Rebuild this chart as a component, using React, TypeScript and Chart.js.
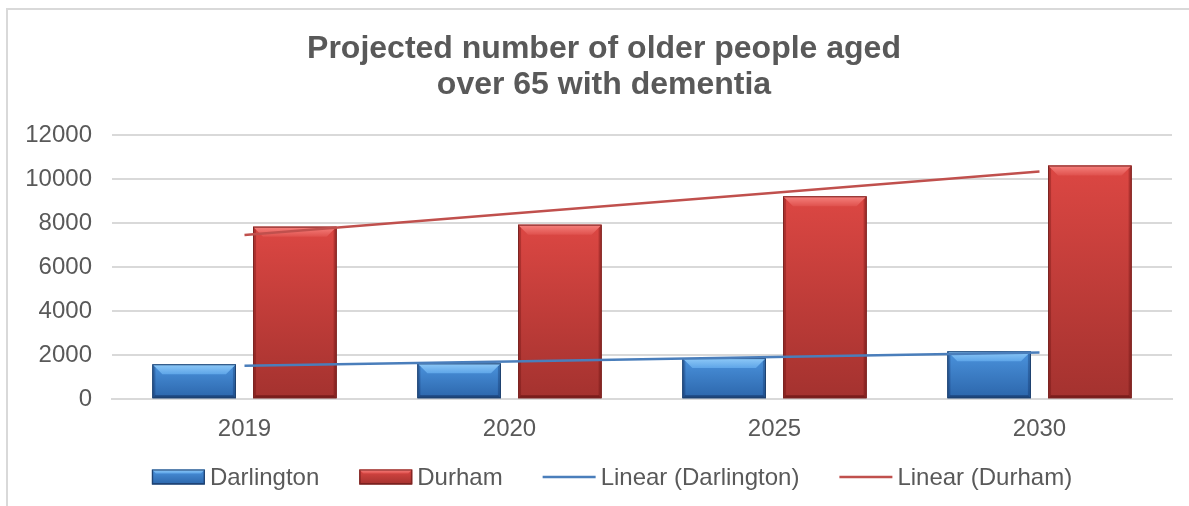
import React, { useEffect, useRef } from 'react';
import { Chart, registerables } from 'chart.js';

Chart.register(...registerables);

const categories = ['2019', '2020', '2025', '2030'];
const darlington = [1590, 1630, 1870, 2180];
const durham = [7850, 7940, 9230, 10630];
const yMin = 0;
const yMax = 12000;
const yStep = 2000;
const titleLines = ['Projected number of older people aged', 'over 65 with dementia'];
const seriesNames = ['Darlington', 'Durham', 'Linear (Darlington)', 'Linear (Durham)'];

const FONT = "'Liberation Sans', Arial, sans-serif";

// Least-squares linear trendline (as Excel's "Linear" trendline)
function linearTrend(values: number[]): number[] {
  const n = values.length;
  const xs = values.map((_, i) => i + 1);
  const mx = xs.reduce((a, b) => a + b, 0) / n;
  const my = values.reduce((a, b) => a + b, 0) / n;
  let num = 0;
  let den = 0;
  for (let i = 0; i < n; i++) {
    num += (xs[i] - mx) * (values[i] - my);
    den += (xs[i] - mx) * (xs[i] - mx);
  }
  const slope = num / den;
  return xs.map((x) => my + slope * (x - mx));
}

const palettes: Record<number, any> = {
  0: {
    top: '#4b93dd',
    bottom: '#2c66ab',
    hiTop: '#8fcaf8',
    hiBottom: '#5ea5e8',
    side: 'rgba(10,35,85,0.30)',
    bottomSide: 'rgba(10,30,70,0.45)',
    edge: '#1f416e',
  },
  1: {
    top: '#dc4743',
    bottom: '#a4322f',
    hiTop: '#f7837f',
    hiBottom: '#df514d',
    side: 'rgba(90,10,10,0.30)',
    bottomSide: 'rgba(70,5,5,0.45)',
    edge: '#7a2422',
  },
};
const trendColors = ['#4a7ebb', '#c0504d'];

function drawBevelRect(ctx: any, pal: any, x0: number, top: number, width: number, h: number, bevel: number, side: number) {
  const x1 = x0 + width;
  const bot = top + h;
  const b = Math.min(bevel, h / 2, width / 2);
  const s = Math.min(side, h / 4);
  ctx.save();
  const g = ctx.createLinearGradient(0, top, 0, bot);
  g.addColorStop(0, pal.top);
  g.addColorStop(1, pal.bottom);
  ctx.fillStyle = g;
  ctx.fillRect(x0, top, width, h);
  ctx.fillStyle = pal.side;
  ctx.beginPath();
  ctx.moveTo(x0, top);
  ctx.lineTo(x0 + s, top + s);
  ctx.lineTo(x0 + s, bot - s);
  ctx.lineTo(x0, bot);
  ctx.closePath();
  ctx.fill();
  ctx.beginPath();
  ctx.moveTo(x1, top);
  ctx.lineTo(x1 - s, top + s);
  ctx.lineTo(x1 - s, bot - s);
  ctx.lineTo(x1, bot);
  ctx.closePath();
  ctx.fill();
  ctx.fillStyle = pal.bottomSide;
  ctx.beginPath();
  ctx.moveTo(x0, bot);
  ctx.lineTo(x0 + s, bot - s);
  ctx.lineTo(x1 - s, bot - s);
  ctx.lineTo(x1, bot);
  ctx.closePath();
  ctx.fill();
  const gt = ctx.createLinearGradient(0, top, 0, top + b);
  gt.addColorStop(0, pal.hiTop);
  gt.addColorStop(1, pal.hiBottom);
  ctx.fillStyle = gt;
  ctx.beginPath();
  ctx.moveTo(x0, top);
  ctx.lineTo(x1, top);
  ctx.lineTo(x1 - b, top + b);
  ctx.lineTo(x0 + b, top + b);
  ctx.closePath();
  ctx.fill();
  ctx.strokeStyle = pal.edge;
  ctx.lineWidth = 1;
  ctx.strokeRect(x0 + 0.5, top + 0.5, width - 1, h - 1);
  ctx.restore();
}

const bevelPlugin = {
  id: 'bevelBars',
  beforeDatasetDraw(chart: any, args: any) {
    if (args.meta.type !== 'bar') return;
    const ctx = chart.ctx;
    ctx.save();
    ctx.shadowColor = 'rgba(0,0,0,0.35)';
    ctx.shadowBlur = 5;
    ctx.shadowOffsetX = 1;
    ctx.shadowOffsetY = 1;
  },
  afterDatasetDraw(chart: any, args: any) {
    if (args.meta.type !== 'bar') return;
    const ctx = chart.ctx;
    ctx.restore();
    const pal = palettes[args.index];
    args.meta.data.forEach((el: any) => {
      const p = el.getProps(['x', 'y', 'base', 'width'], true);
      const top = Math.min(p.y, p.base);
      const h = Math.abs(p.base - p.y);
      if (h <= 0) return;
      drawBevelRect(ctx, pal, p.x - p.width / 2, top, p.width, h, 10, 3);
    });
  },
};

// Legend drawn in the reserved bottom band, items built from the datasets
const legendPlugin = {
  id: 'excelLegend',
  afterDraw(chart: any) {
    const ctx = chart.ctx;
    const fontSize = 24;
    const boxW = 53;
    const boxH = 15;
    const gapText = 5;
    const gapItem = 40;
    ctx.save();
    ctx.font = `${fontSize}px ${FONT}`;
    const items = chart.data.datasets.map((ds: any, i: number) => ({
      text: ds.label,
      kind: ds.type,
      index: i,
      w: boxW + gapText + ctx.measureText(ds.label).width,
    }));
    const total = items.reduce((a: number, it: any) => a + it.w, 0) + gapItem * (items.length - 1);
    let x = chart.width / 2 + 8 - total / 2;
    const cy = chart.height - 29;
    items.forEach((it: any) => {
      if (it.kind === 'bar') {
        drawBevelRect(ctx, palettes[it.index], x, cy - boxH / 2, boxW, boxH, 4, 1.5);
      } else {
        ctx.strokeStyle = chart.data.datasets[it.index].borderColor;
        ctx.lineWidth = 2.5;
        ctx.beginPath();
        ctx.moveTo(x, cy);
        ctx.lineTo(x + boxW, cy);
        ctx.stroke();
      }
      ctx.fillStyle = '#595959';
      ctx.textAlign = 'left';
      ctx.textBaseline = 'middle';
      ctx.fillText(it.text, x + boxW + gapText, cy + 1);
      x += it.w + gapItem;
    });
    ctx.restore();
  },
};

export default function App() {
  const canvasRef = useRef<HTMLCanvasElement | null>(null);

  useEffect(() => {
    if (!canvasRef.current) return;
    const chart = new Chart(canvasRef.current, {
      type: 'bar',
      data: {
        labels: categories,
        datasets: [
          {
            type: 'bar',
            label: seriesNames[0],
            data: darlington,
            backgroundColor: '#3d84d0',
            borderColor: '#1f416e',
            borderWidth: 1,
            order: 2,
          } as any,
          {
            type: 'bar',
            label: seriesNames[1],
            data: durham,
            backgroundColor: '#cc3f3c',
            borderColor: '#7a2422',
            borderWidth: 1,
            order: 2,
          } as any,
          {
            type: 'line',
            label: seriesNames[2],
            data: linearTrend(darlington),
            borderColor: trendColors[0],
            backgroundColor: trendColors[0],
            borderWidth: 2.5,
            pointRadius: 0,
            fill: false,
            order: 1,
          } as any,
          {
            type: 'line',
            label: seriesNames[3],
            data: linearTrend(durham),
            borderColor: trendColors[1],
            backgroundColor: trendColors[1],
            borderWidth: 2.5,
            pointRadius: 0,
            fill: false,
            order: 1,
          } as any,
        ],
      },
      options: {
        responsive: false,
        maintainAspectRatio: false,
        animation: false,
        layout: { padding: { left: 18, right: 18, top: 0, bottom: 54 } },
        datasets: {
          bar: { categoryPercentage: 0.76, barPercentage: 0.83 },
        } as any,
        plugins: {
          title: {
            display: true,
            text: titleLines,
            color: '#595959',
            font: { family: FONT, size: 32, weight: 'bold', lineHeight: 1.1 },
            padding: { top: 22, bottom: 33 },
          },
          legend: { display: false },
          tooltip: { enabled: false },
        },
        scales: {
          x: {
            grid: { display: false },
            border: { display: true, color: '#d9d9d9', width: 2 },
            ticks: { color: '#595959', font: { family: FONT, size: 24 }, padding: 8 },
          },
          y: {
            min: yMin,
            max: yMax,
            ticks: {
              stepSize: yStep,
              color: '#595959',
              font: { family: FONT, size: 24 },
              padding: 20,
              callback: (v: any) => String(v),
            },
            grid: { color: '#d9d9d9', lineWidth: 2, drawTicks: false },
            border: { display: false },
            afterFit: (scale: any) => {
              scale.width = 94;
            },
          },
          yRightSpace: {
            type: 'linear',
            position: 'right',
            display: true,
            grid: { display: false, drawTicks: false },
            border: { display: false },
            ticks: { display: false },
            afterFit: (scale: any) => {
              scale.width = 18;
            },
          },
        },
      } as any,
      plugins: [bevelPlugin, legendPlugin],
    });
    return () => chart.destroy();
  }, []);

  return (
    <div
      style={{
        position: 'fixed',
        left: 0,
        top: 0,
        width: 1189,
        height: 506,
        overflow: 'hidden',
        background: '#ffffff',
      }}
    >
      <div
        style={{
          position: 'absolute',
          left: 6,
          top: 8,
          width: 1300,
          height: 600,
          borderLeft: '2px solid #d9d9d9',
          borderTop: '2px solid #d9d9d9',
        }}
      />
      <canvas
        ref={canvasRef}
        width={1208}
        height={496}
        style={{ position: 'absolute', left: 0, top: 10, width: 1208, height: 496 }}
      />
    </div>
  );
}
